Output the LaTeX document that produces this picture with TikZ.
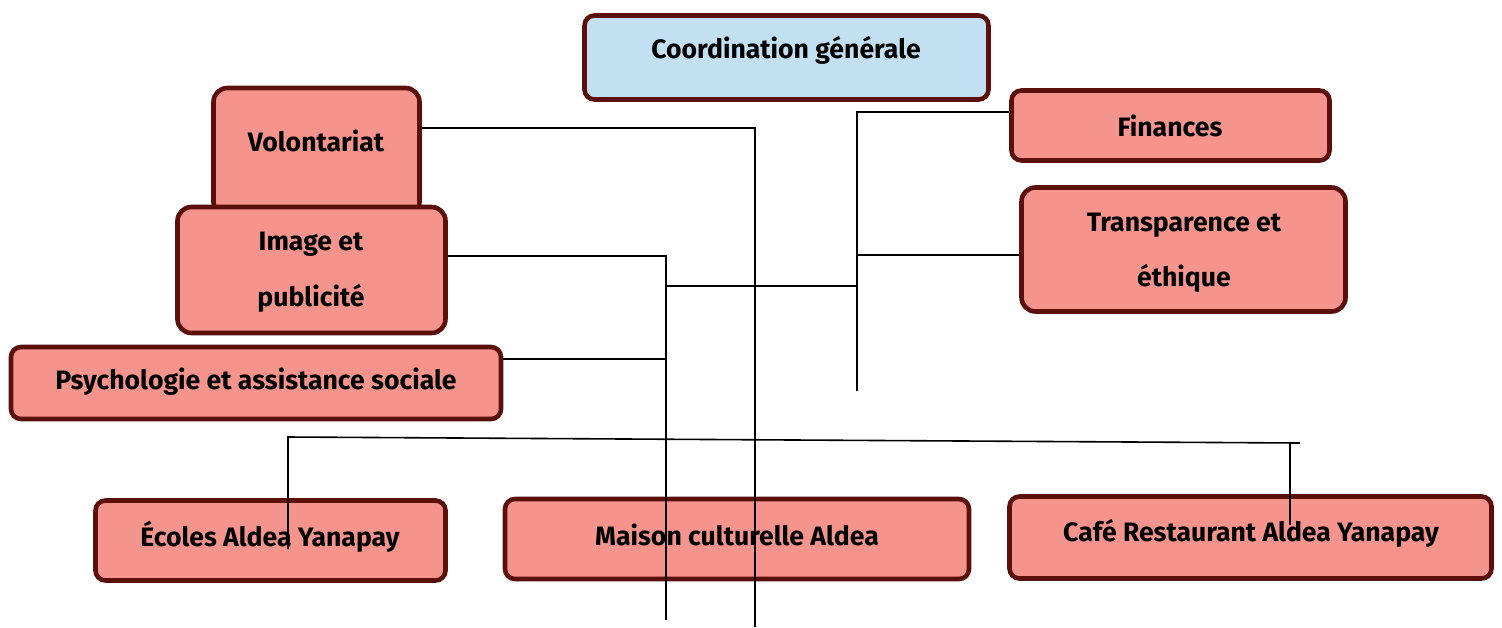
\documentclass[tikz,border=0pt]{standalone}
\usepackage{fontspec}
\setmainfont{Fira Sans}
\begin{document}
\begin{tikzpicture}[x=0.5pt,y=-0.5pt,
  box/.style={draw=boxborder, line width=2.3pt, rounded corners=5pt, fill=salmon, inner sep=0pt},
  txt/.style={font=\fontsize{13.3}{15}\selectfont\bfseries, text=black, align=center, inner sep=0pt},
  conn/.style={draw=black, line width=0.8pt}]
\definecolor{boxborder}{HTML}{5C100C}
\definecolor{salmon}{HTML}{F4948C}
\definecolor{lightblue}{HTML}{C2E0F2}
\useasboundingbox (0,0) rectangle (1502,627);
% boxes
\node[box, fill=lightblue, minimum width=202pt, minimum height=42pt] (coord) at (786.5,57.5) {};
\node[box, rounded corners=7pt, minimum width=103pt, minimum height=64pt] (vol) at (316.5,152) {};
\node[box, rounded corners=7pt, minimum width=134pt, minimum height=63pt] (img) at (311.5,270) {};
\node[box, minimum width=245pt, minimum height=36pt] (psy) at (256,383) {};
\node[box, minimum width=159pt, minimum height=35pt] (fin) at (1170.5,125.5) {};
\node[box, rounded corners=7pt, minimum width=162pt, minimum height=62pt] (tra) at (1183.5,249.5) {};
\node[box, minimum width=175pt, minimum height=40pt] (eco) at (270.5,540.5) {};
\node[box, minimum width=232pt, minimum height=40pt] (mai) at (737,539) {};
\node[box, minimum width=241pt, minimum height=41pt] (caf) at (1250.5,537.5) {};
% texts
\node[txt] (tcoord) at (786,50) {Coordination générale};
\node[txt] (tvol) at (316,141) {Volontariat};
\node[txt, font=\fontsize{13.3}{28}\selectfont\bfseries] (timg) at (311,272) {Image et\\publicité};
\node[txt] (tpsy) at (256,382) {Psychologie et assistance sociale};
\node[txt] (tfin) at (1170,126) {Finances};
\node[txt, font=\fontsize{13.3}{27.5}\selectfont\bfseries] (ttra) at (1184,252.5) {Transparence et\\éthique};
\node[txt] (teco) at (270,537) {Écoles Aldea Yanapay};
\node[txt] (tmai) at (737,535) {Maison culturelle Aldea};
\node[txt] (tcaf) at (1251,533) {Café Restaurant Aldea Yanapay};
% connector points
\coordinate (v1) at (755,128);
\coordinate (v2) at (755,627);
\coordinate (i1) at (666,256);
\coordinate (i2) at (666,620);
\coordinate (p1) at (666,359);
\coordinate (m1) at (666,286);
\coordinate (m2) at (857,286);
\coordinate (f0) at (857,112);
\coordinate (f2) at (857,391);
\coordinate (t1) at (857,255);
\coordinate (h1) at (288,437);
\coordinate (h2) at (1300,443);
\coordinate (h3) at (1290,443);
\coordinate (e1) at (288,549);
\coordinate (c1) at (1290,525);
% connectors
\draw[conn] (vol.east |- v1) -- (v1) -- (v2);
\draw[conn] (img.east |- i1) -- (i1) -- (i2);
\draw[conn] (psy.east |- p1) -- (p1);
\draw[conn] (m1) -- (m2);
\draw[conn] (fin.west |- f0) -- (f0) -- (f2);
\draw[conn] (t1) -- (tra.west |- t1);
\draw[conn] (e1) -- (h1) -- (h2);
\draw[conn] (h3) -- (c1);
\end{tikzpicture}
\end{document}
